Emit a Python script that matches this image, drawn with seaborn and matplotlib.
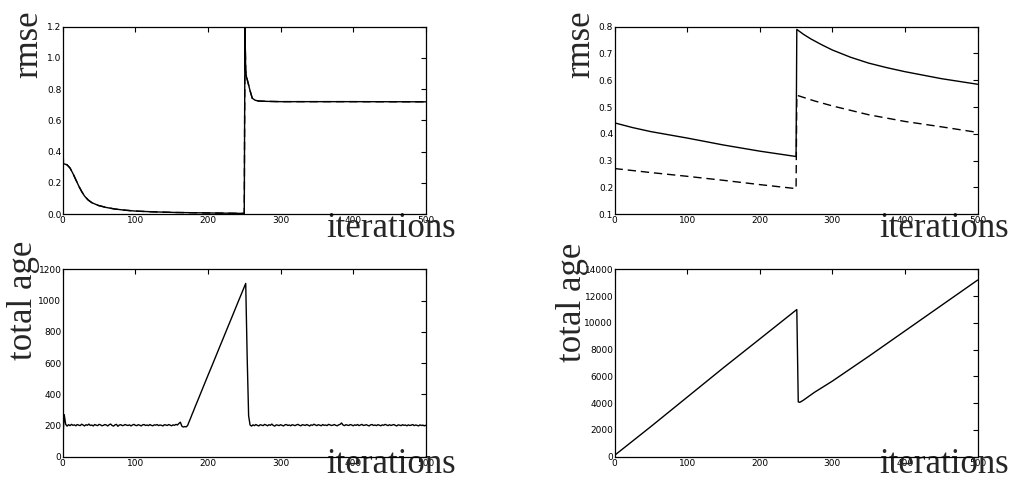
import numpy as np
import matplotlib
matplotlib.use("Agg")
import matplotlib.pyplot as plt
import seaborn as sns

# rmse, left run (solid and dashed lie on top of each other)
rmse_a_iter = [0, 1, 3, 6, 10, 14, 18, 22, 26, 30, 35, 40, 49, 60, 72, 85, 100, 125, 155,
               200, 250, 251, 252, 253, 255, 258, 261, 265, 270, 280, 300, 400, 500]
rmse_a_train = [0.475, 0.322, 0.32, 0.315, 0.295, 0.26, 0.22, 0.18, 0.145, 0.115, 0.09, 0.073,
                0.055, 0.042, 0.032, 0.025, 0.019, 0.014, 0.010, 0.007, 0.004, 1.19, 0.92,
                0.88, 0.845, 0.79, 0.742, 0.729, 0.724, 0.722, 0.72, 0.72, 0.719]
rmse_a_test = rmse_a_train

# rmse, right run
rmse_b_iter = [0, 1, 25, 50, 100, 150, 200, 250, 251, 260, 270, 285, 300, 325, 350, 375, 400, 450, 500]
rmse_b_train = [0.478, 0.44, 0.423, 0.408, 0.384, 0.358, 0.335, 0.315, 0.79, 0.772, 0.755, 0.733,
                0.713, 0.686, 0.664, 0.647, 0.632, 0.606, 0.585]
rmse_b_test_iter = [0, 50, 100, 150, 200, 250, 251, 275, 300, 350, 400, 450, 500]
rmse_b_test = [0.27, 0.255, 0.241, 0.226, 0.21, 0.195, 0.544, 0.523, 0.504, 0.471, 0.446, 0.426, 0.405]

# total age, left run, one value every 2 iterations (0..500)
age_a_iter = np.arange(0, 501, 2)
age_a = [
    100, 270, 208, 196, 205, 199, 207, 201, 204, 198,
    206, 202, 199, 208, 203, 197, 205, 201, 209, 200,
    203, 197, 206, 202, 199, 207, 204, 198, 201, 206,
    203, 197, 205, 209, 200, 196, 204, 207, 195, 203,
    205, 199, 201, 206, 202, 200, 204, 197, 203, 207,
    201, 199, 205, 202, 197, 204, 206, 200, 203, 199,
    206, 201, 198, 204, 202, 206, 199, 203, 201, 197,
    205, 203, 200, 206, 202, 198, 204, 201, 207, 203,
    213, 221, 196, 190, 193, 191, 200, 224, 246, 270,
    292, 316, 338, 361, 384, 407, 429, 452, 475, 498,
    521, 543, 566, 588, 611, 634, 656, 679, 702, 724,
    747, 770, 792, 815, 838, 860, 883, 906, 928, 951,
    974, 997, 1019, 1042, 1065, 1088, 1110, 640, 262, 203,
    196, 204, 199, 206, 201, 197, 205, 202, 199, 207,
    203, 198, 205, 201, 209, 200, 196, 204, 202, 199,
    205, 201, 197, 204, 206, 200, 203, 198, 205, 202,
    199, 204, 207, 201, 198, 205, 203, 200, 206, 202,
    197, 204, 201, 208, 203, 199, 205, 202, 198, 206,
    201, 203, 199, 207, 204, 200, 202, 206, 201, 198,
    204, 207, 216, 203, 199, 205, 202, 200, 206, 203,
    198, 204, 201, 206, 199, 203, 207, 200, 202, 205,
    201, 197, 204, 206, 200, 203, 199, 205, 202, 198,
    204, 201, 207, 203, 199, 205, 200, 203, 206, 201,
    197, 204, 202, 199, 205, 201, 203, 198, 204, 200,
    202, 206, 199, 203, 201, 197, 204, 200, 202, 198,
    201,
]

# total age, right run
age_b_iter = [0, 50, 100, 150, 200, 251, 253, 255, 260, 275, 300, 350, 400, 450, 500]
age_b = [100, 2250, 4450, 6650, 8800, 11000, 4100, 4060, 4220, 4800, 5650, 7500, 9400, 11300, 13200]

sns.set_style("white")
plt.rcParams["font.family"] = ["DejaVu Sans"]

fig, axes = plt.subplots(2, 2, figsize=(10.12, 4.86), dpi=100)
plt.subplots_adjust(left=0.062, right=0.966, bottom=0.0603, top=0.945, wspace=0.52, hspace=0.2955)

dash = (0, (6, 3.5))
label_font = {"family": "Liberation Serif", "size": 25}

ax = axes[0, 0]
sns.lineplot(x=rmse_a_iter, y=rmse_a_train, ax=ax, color="black", lw=1.0, estimator=None, sort=False)
sns.lineplot(x=rmse_a_iter, y=rmse_a_test, ax=ax, color="black", lw=1.0, linestyle=dash, estimator=None, sort=False)
ax.set_ylim(0, 1.2)
ax.set_yticks(np.arange(0, 1.21, 0.2))

ax = axes[0, 1]
sns.lineplot(x=rmse_b_iter, y=rmse_b_train, ax=ax, color="black", lw=1.0, estimator=None, sort=False)
sns.lineplot(x=rmse_b_test_iter, y=rmse_b_test, ax=ax, color="black", lw=1.0, linestyle=dash, estimator=None, sort=False)
ax.set_ylim(0.1, 0.8)
ax.set_yticks(np.arange(0.1, 0.81, 0.1))

ax = axes[1, 0]
sns.lineplot(x=age_a_iter, y=age_a, ax=ax, color="black", lw=1.0, estimator=None, sort=False)
ax.set_ylim(0, 1200)
ax.set_yticks(range(0, 1201, 200))

ax = axes[1, 1]
sns.lineplot(x=age_b_iter, y=age_b, ax=ax, color="black", lw=1.0, estimator=None, sort=False)
ax.set_ylim(0, 14000)
ax.set_yticks(range(0, 14001, 2000))

ylabels = [["rmse", "rmse"], ["total age", "total age"]]
ylab_pos = [[(-0.0716, 0.908), (-0.071, 0.908)], [(-0.0837, 0.837), (-0.092, 0.826)]]
xlab_pos = [[(0.904, -0.12), (0.907, -0.123)], [(0.904, -0.087), (0.907, -0.085)]]

for r in range(2):
    for c in range(2):
        ax = axes[r, c]
        ax.set_xlim(0, 500)
        ax.set_xticks(range(0, 501, 100))
        ax.tick_params(direction="in", top=True, right=True, length=3.5, width=0.8,
                       labelsize=6.5, pad=1.5, colors="black")
        ax.tick_params(axis="y", pad=1.0)
        for s in ax.spines.values():
            s.set_linewidth(0.9)
            s.set_color("black")
        ax.set_xlabel("iterations", fontdict=label_font, va="baseline", ha="center")
        ax.xaxis.set_label_coords(*xlab_pos[r][c])
        ax.set_ylabel(ylabels[r][c], fontdict=label_font, va="baseline", ha="center")
        ax.yaxis.set_label_coords(*ylab_pos[r][c])

fig.savefig("out.png", dpi=100, facecolor="white")
